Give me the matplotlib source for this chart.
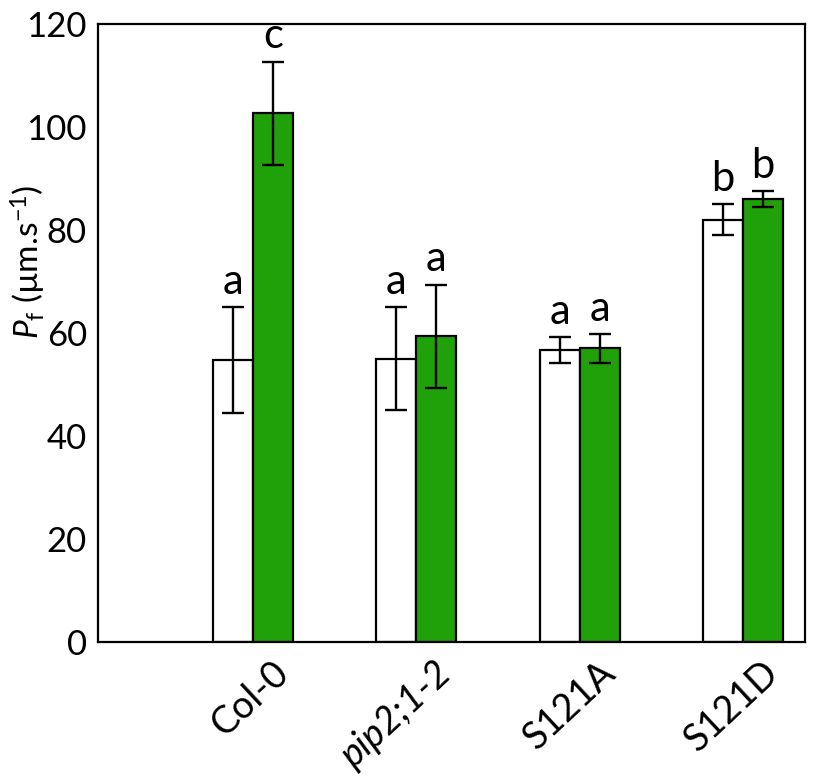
import matplotlib.pyplot as plt
import matplotlib.transforms as mtransforms
import numpy as np

plt.rcParams['font.family'] = ['Lato', 'DejaVu Sans']
plt.rcParams['mathtext.fontset'] = 'custom'
plt.rcParams['mathtext.rm'] = 'Lato'
plt.rcParams['mathtext.it'] = 'Lato:italic'

# data
genotypes = ['Col-0', 'pip2;1-2', 'S121A', 'S121D']
white_vals = [54.7, 55.0, 56.7, 82.0]
white_err = [10.3, 10.0, 2.5, 3.0]
green_vals = [102.7, 59.4, 57.0, 86.0]
green_err = [10.0, 10.0, 2.8, 1.5]
white_letters = ['a', 'a', 'a', 'b']
green_letters = ['c', 'a', 'a', 'b']

x = np.arange(len(genotypes))
w = 0.245

fig = plt.figure(figsize=(8.2, 7.82), dpi=100)
ax = fig.add_axes([98 / 820, 1 - 642 / 782, 707 / 820, 618 / 782])

errkw = dict(ecolor='black', elinewidth=1.7, capsize=8, capthick=1.7)
ax.bar(x - w / 2, white_vals, w, yerr=white_err, color='white', edgecolor='black',
       linewidth=1.6, error_kw=errkw, zorder=2)
ax.bar(x + w / 2, green_vals, w, yerr=green_err, color='#20a10a', edgecolor='black',
       linewidth=1.6, error_kw=errkw, zorder=2)

for i in range(len(genotypes)):
    ax.text(x[i] - w / 2, white_vals[i] + white_err[i] + 1.2, white_letters[i],
            ha='center', va='bottom', fontsize=30)
    ax.text(x[i] + w / 2, green_vals[i] + green_err[i] + 1.2, green_letters[i],
            ha='center', va='bottom', fontsize=30)

ax.set_xlim(-0.95, 3.38)
ax.set_ylim(0, 120)
ax.set_yticks(range(0, 121, 20))
ax.tick_params(axis='y', length=0, labelsize=25, pad=8)
ax.tick_params(axis='x', length=0, labelsize=27, pad=9)
ax.set_xticks(x)
labels = ax.set_xticklabels(genotypes, rotation=43, ha='right', rotation_mode='anchor')
labels[1].set_style('italic')
shift = mtransforms.ScaledTranslation(13 / 72, 0, fig.dpi_scale_trans)
for lab in labels:
    lab.set_transform(lab.get_transform() + shift)
for s in ax.spines.values():
    s.set_linewidth(1.6)

ax.set_ylabel(r'$P_\mathregular{f}$ (µm.s$^{-1}$)', fontsize=24, va='center')
ax.yaxis.set_label_coords(-0.099, 0.615)

fig.savefig('out.png', dpi=100)
